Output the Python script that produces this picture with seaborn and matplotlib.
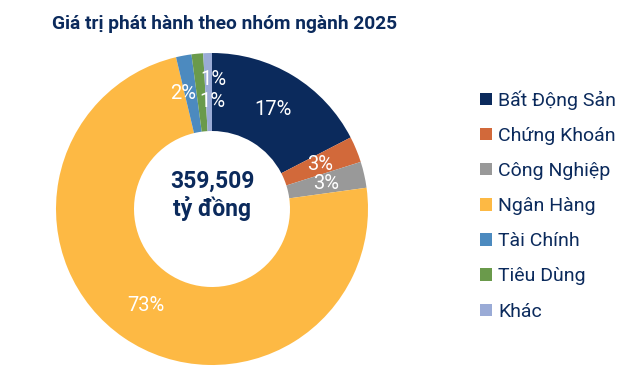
import matplotlib
matplotlib.use("Agg")
import matplotlib.pyplot as plt
import matplotlib.patches as mpatches
import numpy as np
import seaborn as sns

categories = ["Bất Động Sản", "Chứng Khoán", "Công Nghiệp", "Ngân Hàng", "Tài Chính", "Tiêu Dùng", "Khác"]
shares = [17.4, 2.7, 2.7, 73.4, 1.6, 1.2, 0.9]
colors_hex = ["#0B2A5C", "#D2693A", "#999999", "#FDB944", "#4C8ABF", "#6A9A4B", "#9AABD6"]
title = "Giá trị phát hành theo nhóm ngành 2025"
center_value = "359,509"
center_unit = "tỷ đồng"

sns.set_theme(style="white")
plt.rcParams["font.family"] = ["Roboto", "DejaVu Sans"]

palette = sns.color_palette(colors_hex)
navy = "#0B2A5C"

fig = plt.figure(figsize=(6.4, 3.69), dpi=100)
ax = fig.add_axes([56 / 640, 4 / 369, 312 / 640, 312 / 369])

wedges, texts, autotexts = ax.pie(
    shares, colors=palette, startangle=90, counterclock=False,
    radius=1.0, wedgeprops=dict(width=0.5, linewidth=0),
    autopct="%.0f%%", pctdistance=0.75,
    textprops=dict(color="white", fontsize=14.5, fontweight="normal"),
)
ax.set_xlim(-1, 1)
ax.set_ylim(-1, 1)

# nudge the small top slices' labels so they don't collide
x, y = autotexts[4].get_position()
autotexts[4].set_position((x - 0.05, y))
autotexts[5].set_position((0.005, 0.69))
autotexts[6].set_position((0.01, 0.83))

ax.text(0, 0.175, center_value, ha="center", va="center", fontsize=16.5,
        fontweight="bold", color=navy)
ax.text(0, 0.0, center_unit, ha="center", va="center", fontsize=16.5,
        fontweight="bold", color=navy)

fig.text(52 / 640, 1 - 29 / 369, title, ha="left", va="baseline",
         fontsize=13.8, fontweight="bold", color=navy)

handles = [mpatches.Patch(facecolor=c, edgecolor="none") for c in palette]
leg = fig.legend(handles, categories, loc="center left",
                 bbox_to_anchor=(480 / 640, 1 - 205.5 / 369),
                 frameon=False, fontsize=14, handlelength=0.6, handleheight=0.6,
                 handletextpad=0.33, labelspacing=0.88, borderpad=0, borderaxespad=0)
for t in leg.get_texts():
    t.set_color(navy)

fig.savefig("out.png", dpi=100, facecolor="white")
